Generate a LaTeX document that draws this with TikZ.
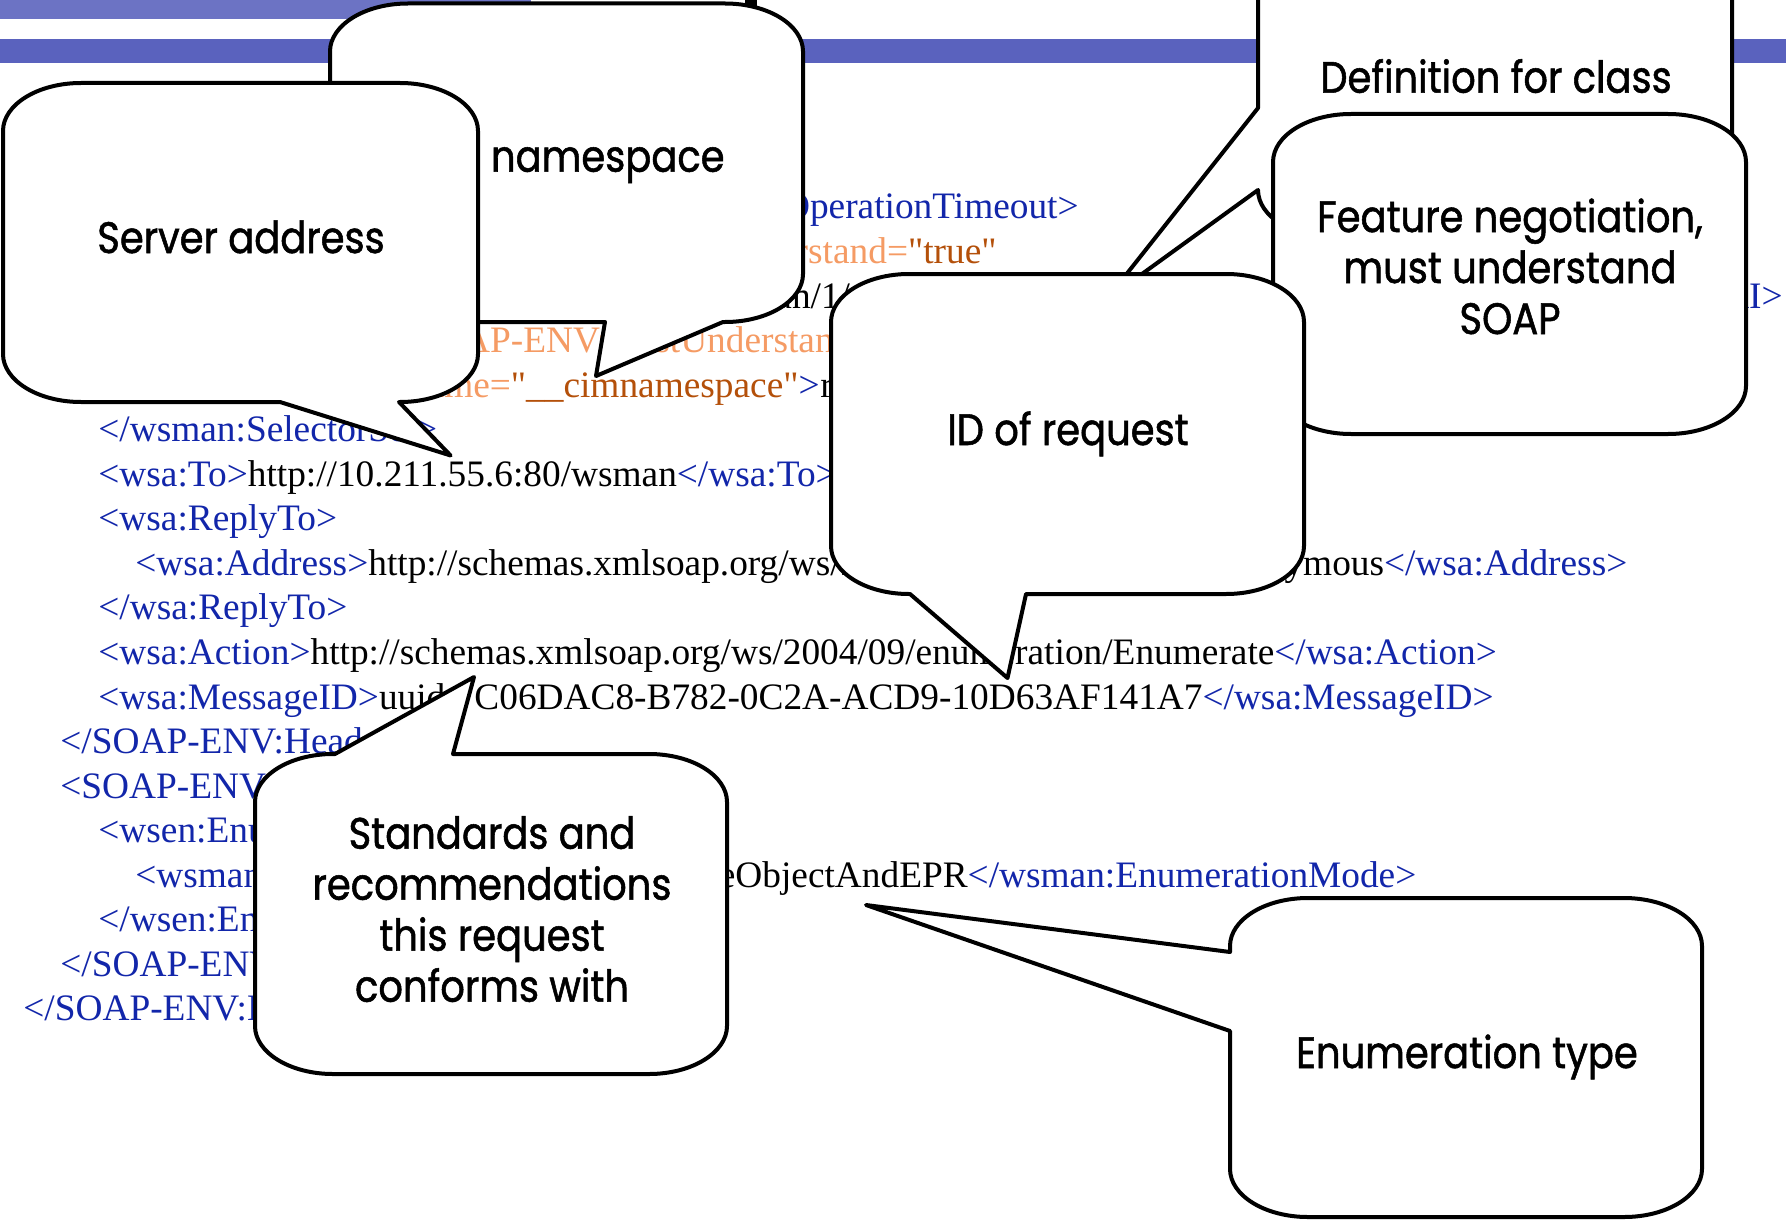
\documentclass[tikz,border=0pt]{standalone}
\usepackage{fontspec}
\setmainfont{Liberation Serif}[Ligatures=TeXOff]
\newfontfamily\notefont{Poppins}[FakeStretch=0.875, FakeBold=1.2]

\definecolor{tagblue}{RGB}{18,38,170}
\definecolor{attname}{RGB}{245,155,100}
\definecolor{attval}{RGB}{180,80,10}
\definecolor{stripe}{RGB}{90,98,190}
\definecolor{stripelight}{RGB}{108,115,196}

\newcommand{\tg}[1]{\textcolor{tagblue}{#1}}
\newcommand{\an}[1]{\textcolor{attname}{#1}}
\newcommand{\av}[1]{\textcolor{attval}{#1}}

% corner radii of the speech bubbles
\def\rx{78} \def\ry{48} \def\kx{43} \def\ky{26.5}
% #1-#4: left, top, right, bottom; #5-#8: tail on top, right, bottom, left side
\newcommand{\bubble}[8]{%
  \filldraw[bubble] (#1+\rx,#2) #5 -- (#3-\rx,#2)
    .. controls +(\kx,0) and +(0,-\ky) .. (#3,#2+\ry) #6 -- (#3,#4-\ry)
    .. controls +(0,\ky) and +(\kx,0) .. (#3-\rx,#4) #7 -- (#1+\rx,#4)
    .. controls +(-\kx,0) and +(0,\ky) .. (#1,#4-\ry) #8 -- (#1,#2+\ry)
    .. controls +(0,-\ky) and +(-\kx,0) .. (#1+\rx,#2) -- cycle;}

\tikzset{
  bubble/.style={draw=black, fill=white, line width=2pt, line join=round},
  note/.style={font={\notefont\fontsize{22}{25.5}\selectfont}, align=center, inner sep=0pt, anchor=base},
  xml/.style={font={\fontsize{18.67}{22}\selectfont}, anchor=base west, inner sep=0pt},
  xmlend/.style={xml, anchor=base east},
}

\begin{document}
\begin{tikzpicture}[x=0.5pt, y=-0.5pt]
\useasboundingbox (0,0) rectangle (1786,1225);
\clip (0,0) rectangle (1786,1225);
\fill[white] (0,0) rectangle (1786,1225);

% slide banner
\fill[stripelight] (0,0) rectangle (531,19);
\fill[stripe] (0,39) rectangle (1786,63);
\fill[black] (745,0) rectangle (757,6);

% the request
\node[xmlend] (ln0) at (1079,219) {\tg{</wsman:OperationTimeout>}};
\node[xmlend] (ln1) at (997,263.55) {\an{SOAP-ENV:mustUnderstand=}\av{"true"}};
\node[xml] (ln2a) at (704.5,308.1) {wsman/1/};
\node[xmlend] (ln2b) at (1783,308.1) {\tg{</wsman:ResourceURI>}};
\node[xml] (ln3) at (415,352.65) {\an{SOAP-ENV:mustUnderstand=}\av{"true"}\tg{>}};
\node[xmlend] (ln4a) at (820,397.2) {\an{Name=}\av{"\_\_cimnamespace"}\tg{>}};
\node[xml] (ln4b) at (ln4a.base east) {root/cimv2\tg{</wsman:Selector>}};
\node[xml] (ln5) at (98,441.75) {\tg{</wsman:SelectorSet>}};
\node[xml] (ln6) at (98,486.3) {\tg{<wsa:To>}http://10.211.55.6:80/wsman\tg{</wsa:To>}};
\node[xml] (ln7) at (98,530.85) {\tg{<wsa:ReplyTo>}};
\node[xml] (ln8) at (135,575.4) {\tg{<wsa:Address>}http://schemas.xmlsoap.org/ws/2004/08/addressing/role/anonymous\tg{</wsa:Address>}};
\node[xml] (ln9) at (98,619.95) {\tg{</wsa:ReplyTo>}};
\node[xml] (ln10) at (98,664.5) {\tg{<wsa:Action>}http://schemas.xmlsoap.org/ws/2004/09/enumeration/Enumerate\tg{</wsa:Action>}};
\node[xml] (ln11) at (98,709.05) {\tg{<wsa:MessageID>}uuid:7C06DAC8-B782-0C2A-ACD9-10D63AF141A7\tg{</wsa:MessageID>}};
\node[xml] (ln12) at (60,753.6) {\tg{</SOAP-ENV:Header>}};
\node[xml] (ln13) at (60,798.15) {\tg{<SOAP-ENV:Body>}};
\node[xml] (ln14) at (98,842.7) {\tg{<wsen:Enumerate>}};
\node[xml] (ln15) at (135,887.25) {\tg{<wsman:EnumerationMode>}EnumerateObjectAndEPR\tg{</wsman:EnumerationMode>}};
\node[xml] (ln16) at (98,931.8) {\tg{</wsen:Enumerate>}};
\node[xml] (ln17) at (60,976.35) {\tg{</SOAP-ENV:Body>}};
\node[xml] (ln18) at (23,1020.9) {\tg{</SOAP-ENV:Envelope>}};

% callouts, back to front
\bubble{330}{3.5}{803}{322}{}{}{-- (723,322) -- (596,376) -- (605,322)}{}
\node[note] (ns) at (566.5,171.7) {CIM namespace};
\bubble{3}{83}{478}{402}{}{}{-- (399,402) -- (450.6,455.5) -- (280,402)}{}
\node[note] (server) at (241,253) {Server address};
\bubble{1258}{-84}{1732}{238}{}{}{}{-- (1258,190) -- (1106,300) -- (1258,108)}
\node[note] (class) at (1496,92.7) {Definition for class};
\bubble{1273}{114}{1746}{434}{}{}{}{}
\node[note] (feature) at (1510,334) {Feature negotiation,\\must understand\\SOAP};
\bubble{831}{274}{1304}{594}{}{}{-- (1026,594) -- (1007.5,678) -- (910,594)}{}
\node[note] (msgid) at (1068,445) {ID of request};
\bubble{255}{754}{727}{1074}{-- (335,754) -- (474,677) -- (453,754)}{}{}{}
\node[note] (standards) at (492,1001.7) {Standards and\\recommendations\\this request\\conforms with};
\bubble{1230}{898}{1702}{1217}{}{}{}{-- (1230,1031) -- (866,905) -- (1230,952)}
\node[note] (enum) at (1467,1068) {Enumeration type};

\end{tikzpicture}
\end{document}
